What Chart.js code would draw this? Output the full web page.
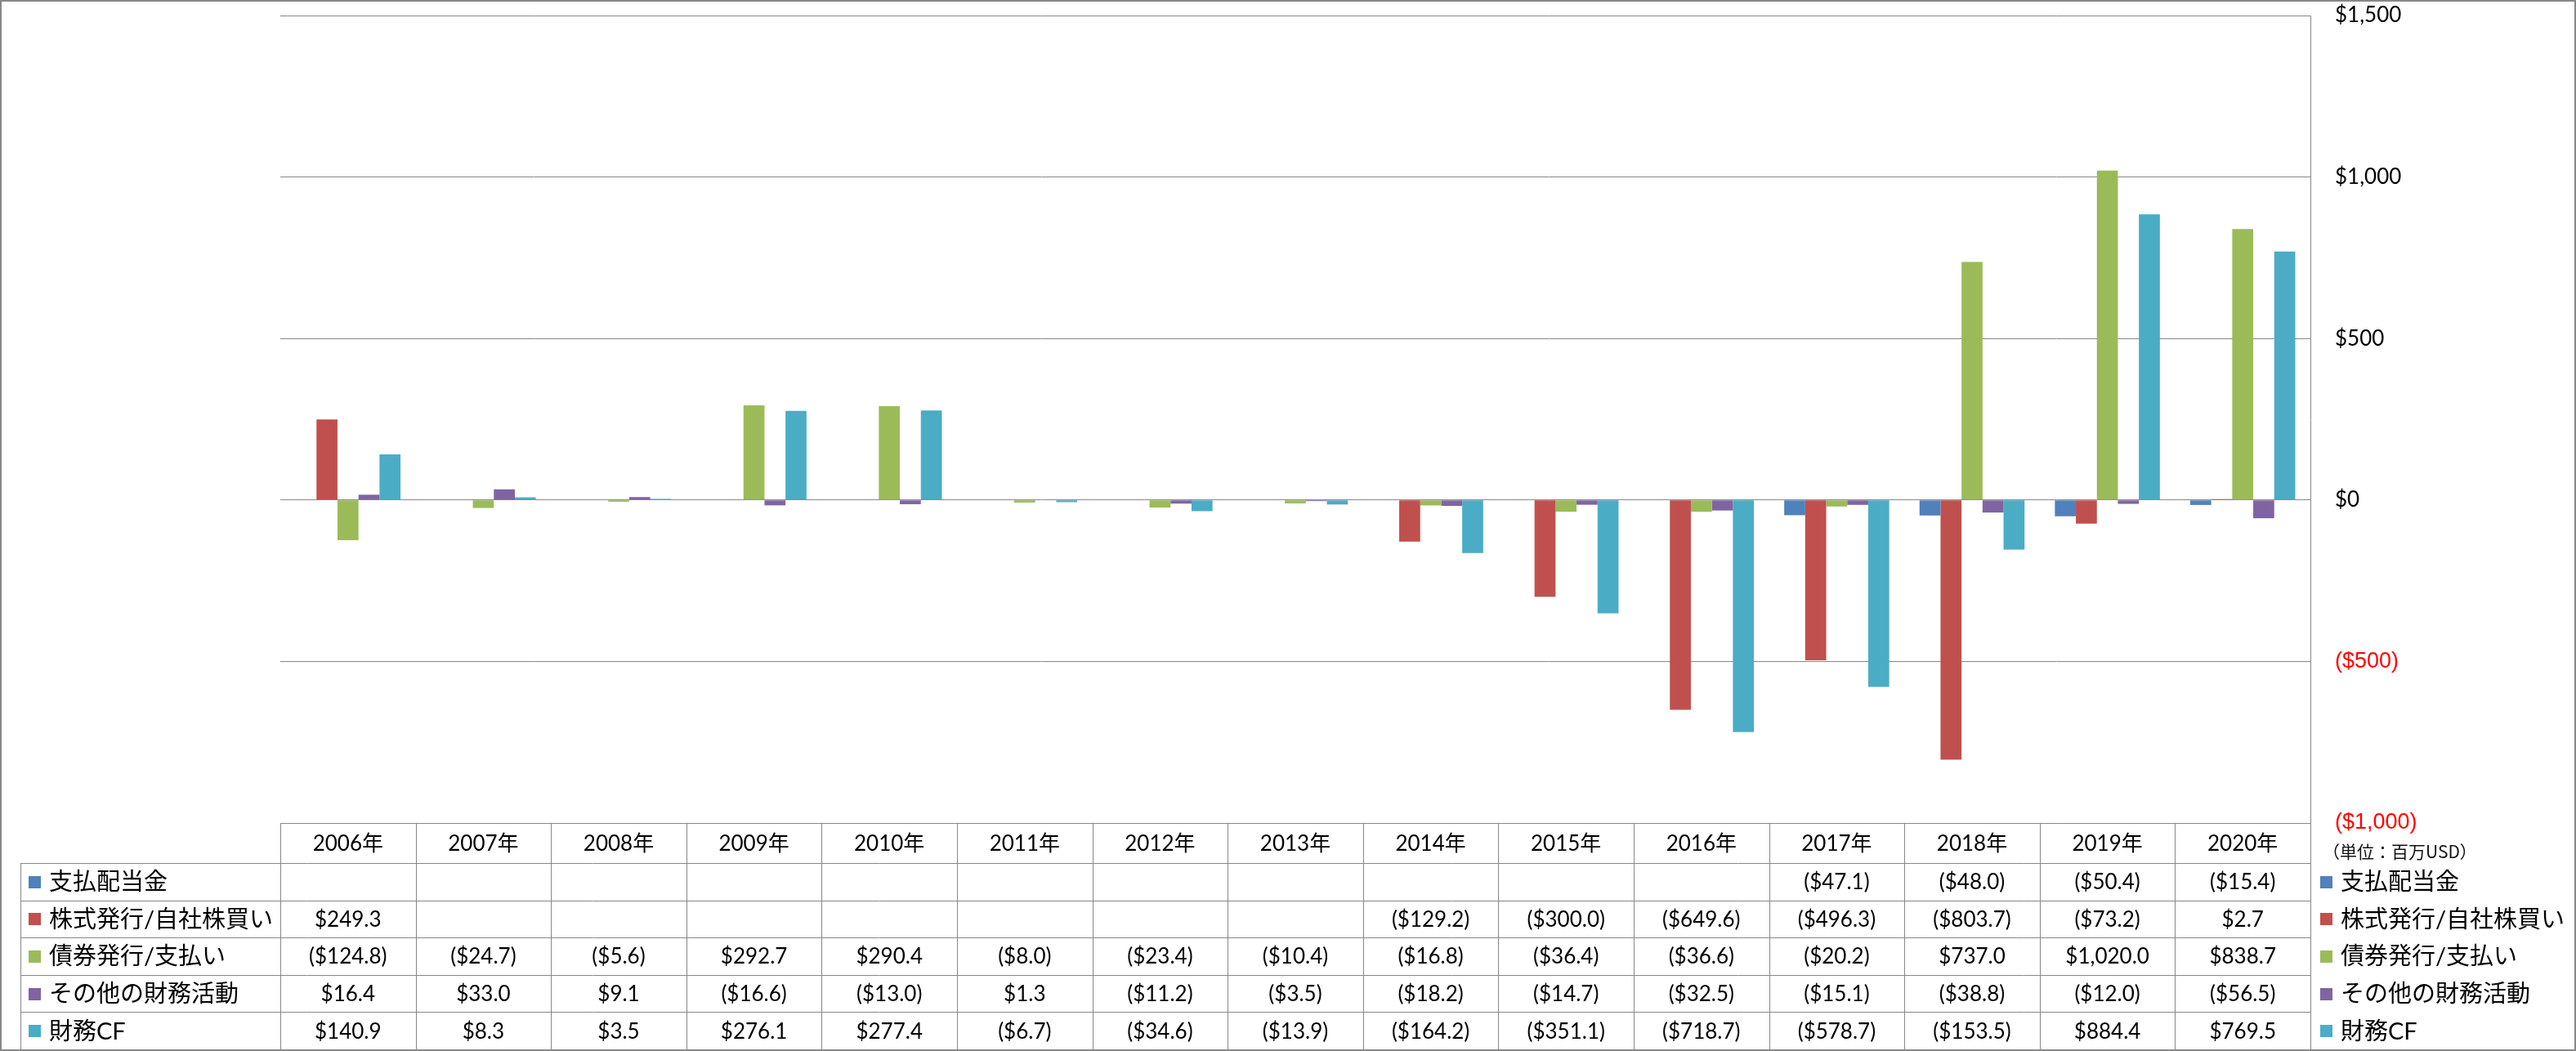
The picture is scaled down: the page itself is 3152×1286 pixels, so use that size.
<!DOCTYPE html>
<html><head><meta charset="utf-8">
<script src="https://cdn.jsdelivr.net/npm/chart.js@4.4.1/dist/chart.umd.min.js"></script>
<style>html,body{margin:0;padding:0;background:#fff;overflow:hidden}canvas{display:block}</style>
</head><body>
<canvas id="c" width="3152" height="1286"></canvas>
<script>
// ---- data ----
const categories = ['2006年','2007年','2008年','2009年','2010年','2011年','2012年','2013年','2014年','2015年','2016年','2017年','2018年','2019年','2020年'];
const seriesNames = ['支払配当金','株式発行/自社株買い','債券発行/支払い','その他の財務活動','財務CF'];
const dividends   = [null,null,null,null,null,null,null,null,null,null,null,-47.1,-48.0,-50.4,-15.4];
const equity      = [249.3,null,null,null,null,null,null,null,-129.2,-300.0,-649.6,-496.3,-803.7,-73.2,2.7];
const debt        = [-124.8,-24.7,-5.6,292.7,290.4,-8.0,-23.4,-10.4,-16.8,-36.4,-36.6,-20.2,737.0,1020.0,838.7];
const otherFin    = [16.4,33.0,9.1,-16.6,-13.0,1.3,-11.2,-3.5,-18.2,-14.7,-32.5,-15.1,-38.8,-12.0,-56.5];
const financingCF = [140.9,8.3,3.5,276.1,277.4,-6.7,-34.6,-13.9,-164.2,-351.1,-718.7,-578.7,-153.5,884.4,769.5];
const yTicks = [-1000,-500,0,500,1000,1500];
const unitLabel = '（単位：百万USD）';

const seriesValues = [dividends, equity, debt, otherFin, financingCF];
const colors = ['#4F81BD','#C0504D','#9BBB59','#8064A2','#4BACC6'];
const lineColor = '#888888';

function fmtMoney(v, digits) {
  const s = '$' + Math.abs(v).toLocaleString('en-US', {minimumFractionDigits: digits, maximumFractionDigits: digits});
  return v < 0 ? '(' + s + ')' : s;
}

const TABLE_FONT = '26px Lato, "Noto Sans CJK JP", sans-serif';
const LEGEND_FONT = '29px Lato, "Noto Sans CJK JP", sans-serif';

const tablePlugin = {
  id: 'dataTable',
  beforeDraw(chart) {
    const ctx = chart.ctx;
    ctx.save();
    ctx.fillStyle = '#fff';
    ctx.fillRect(0, 0, chart.width, chart.height);
    ctx.restore();
  },
  afterDraw(chart) {
    const ctx = chart.ctx;
    const xs = chart.scales.x;
    const ca = chart.chartArea;
    const n = categories.length;
    const colW = (ca.right - ca.left) / n;
    const top = ca.bottom;
    const headerH = 49;
    const bottom = chart.height - 2;
    const rowsTop = top + headerH;
    const rowH = (bottom - rowsTop) / seriesNames.length;
    const legendLeft = 25;

    ctx.save();
    ctx.strokeStyle = lineColor;
    ctx.lineWidth = 1;
    ctx.beginPath();
    ctx.moveTo(ca.left, Math.round(top) + 0.5); ctx.lineTo(ca.right, Math.round(top) + 0.5);
    for (let r = 0; r <= seriesNames.length; r++) {
      const y = Math.round(rowsTop + r * rowH) + 0.5;
      ctx.moveTo(legendLeft, y); ctx.lineTo(ca.right, y);
    }
    ctx.moveTo(legendLeft + 0.5, rowsTop); ctx.lineTo(legendLeft + 0.5, bottom);
    for (let i = 0; i <= n; i++) {
      const x = Math.round(xs.getPixelForValue(Math.min(i, n - 1)) + (i === n ? colW / 2 : -colW / 2)) + 0.5;
      ctx.moveTo(x, top); ctx.lineTo(x, bottom);
    }
    ctx.stroke();

    ctx.fillStyle = '#000';
    ctx.textBaseline = 'middle';
    // header
    ctx.font = TABLE_FONT;
    ctx.textAlign = 'center';
    for (let i = 0; i < n; i++) {
      ctx.fillText(categories[i], xs.getPixelForValue(i), top + headerH / 2 + 1);
    }
    for (let s = 0; s < seriesNames.length; s++) {
      const cy = rowsTop + (s + 0.5) * rowH + 1;
      ctx.font = TABLE_FONT;
      ctx.textAlign = 'center';
      ctx.fillStyle = '#000';
      for (let i = 0; i < n; i++) {
        const v = seriesValues[s][i];
        if (v === null || v === undefined) continue;
        ctx.fillText(fmtMoney(v, 1), xs.getPixelForValue(i), cy);
      }
      // legend keys
      ctx.fillStyle = colors[s];
      ctx.fillRect(35, Math.round(cy - 8), 15, 15);
      ctx.fillRect(2839, Math.round(cy - 8), 15, 15);
      ctx.fillStyle = '#000';
      ctx.textAlign = 'left';
      ctx.font = LEGEND_FONT;
      ctx.fillText(seriesNames[s], 60, cy);
      ctx.fillText(seriesNames[s], 2864, cy);
    }
    // unit label
    ctx.textAlign = 'left';
    ctx.font = '21px "Noto Sans CJK JP", sans-serif';
    ctx.fillStyle = '#111';
    ctx.fillText(unitLabel, 2842, top + 35);

    // outer border
    ctx.strokeStyle = lineColor;
    ctx.lineWidth = 2;
    ctx.strokeRect(1, 1, chart.width - 2, chart.height - 2);
    ctx.restore();
  }
};

new Chart(document.getElementById('c'), {
  type: 'bar',
  data: {
    labels: categories,
    datasets: seriesNames.map((name, k) => ({
      label: name,
      data: seriesValues[k],
      backgroundColor: colors[k],
      borderWidth: 0,
      barPercentage: 1.0,
      categoryPercentage: 0.776
    }))
  },
  options: {
    responsive: false,
    devicePixelRatio: 1,
    animation: false,
    layout: { padding: { left: 343, top: 19, right: 0, bottom: 279 } },
    plugins: { legend: { display: false }, tooltip: { enabled: false }, title: { display: false } },
    scales: {
      x: { display: false, offset: true, grid: { display: false } },
      y: {
        position: 'right',
        min: -1000, max: 1500,
        afterBuildTicks: (s) => { s.ticks = yTicks.map(v => ({ value: v })); },
        afterFit: (s) => { s.width = 325; s.paddingTop = 0; s.paddingBottom = 0; },
        grid: { color: lineColor, lineWidth: 1, drawTicks: false },
        border: { display: true, color: lineColor, width: 1 },
        ticks: {
          autoSkip: false,
          padding: 30,
          crossAlign: 'near',
          callback: (v) => fmtMoney(v, 0),
          color: (c) => (c.tick && c.tick.value < 0) ? '#FF0000' : '#000000',
          font: (c) => (c.tick && c.tick.value < 0)
            ? { family: '"Liberation Sans", Arial, sans-serif', size: 27 }
            : { family: 'Lato, sans-serif', size: 26 }
        }
      }
    }
  },
  plugins: [tablePlugin]
});
</script>
</body></html>
